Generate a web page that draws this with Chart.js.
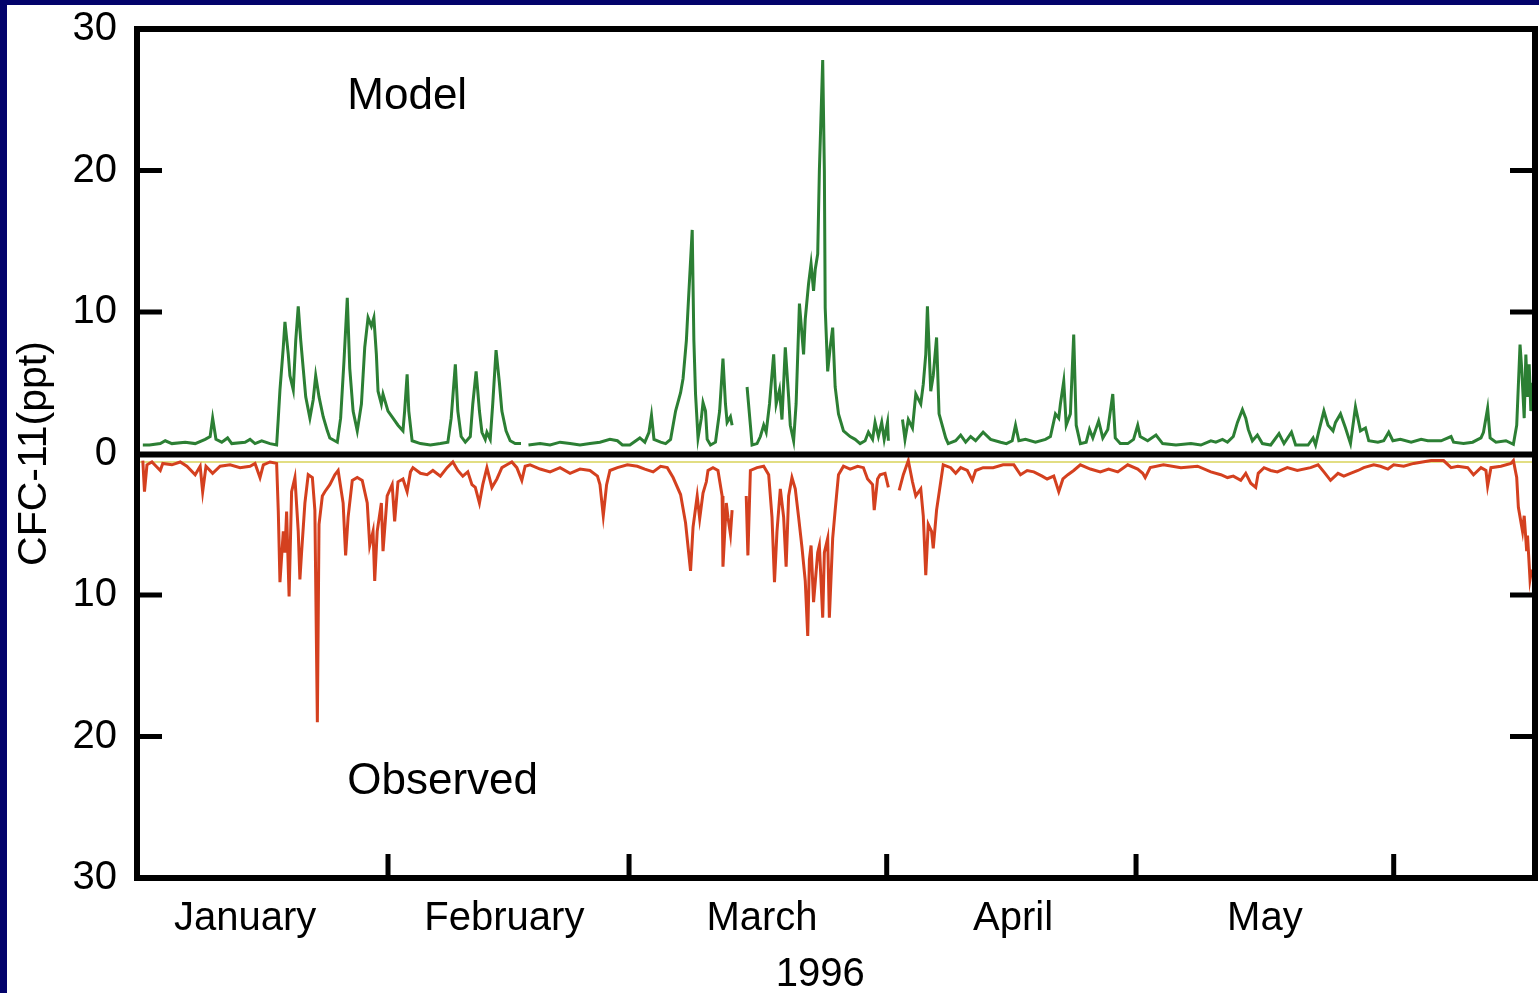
<!DOCTYPE html>
<html>
<head>
<meta charset="utf-8">
<script src="https://cdn.jsdelivr.net/npm/chart.js@4.4.1/dist/chart.umd.min.js"></script>
<style>
html, body { margin:0; padding:0; background:#03036b; width:1539px; height:993px; overflow:hidden; }
#wrap { position:absolute; left:7px; top:5px; width:1532px; height:988px; background:#fff; }
</style>
</head>
<body>
<div id="wrap"><canvas id="cfc"></canvas></div>
<script>
// time axis: day of 1996, Jan 1 00:00 = 0
const monthStarts = [31, 60, 91, 121, 152];
const monthNames = ['January', 'February', 'March', 'April', 'May'];
const labelDays = [13.8, 45.0, 76.0, 106.2, 136.5];
const yTicks = [-30, -20, -10, 0, 10, 20, 30];

// Model CFC-11 (ppt), plotted upward
const modelDays = [
1.5, 2.3, 3.6, 4.2, 5.0, 6.6, 7.8, 9.0, 9.6, 9.9, 10.3, 11.0, 11.7, 12.2, 13.8, 14.4, 15.0, 15.8, 16.8, 17.6,
17.8, 18.0, 18.4, 18.6, 19.0, 19.2, 19.6, 19.9, 20.2, 20.5, 20.8, 21.1, 21.6, 22.0, 22.3, 22.7, 23.2, 23.7, 24.0, 24.9, 25.3, 25.7, 26.1, 26.4, 26.8, 27.3, 27.8, 28.2, 28.6, 29.0, 29.3, 29.6, 29.8, 30.2, 30.4, 31.0, 31.6, 32.2, 32.8, 33.0, 33.3, 33.5, 33.9,
34.9, 36.1, 37.3, 38.2, 38.6, 39.1, 39.4, 39.8, 40.3, 40.9, 41.2, 41.6, 42.0, 42.3, 42.7, 42.9, 43.3, 43.6, 44.0, 44.4, 44.7, 45.2, 45.7, 46.3, 47.0, 47.4, 47.9, 49.3, 50.5, 51.7, 52.9, 54.1, 55.3, 56.5, 57.7, 58.6, 59.2,
60.1, 61.3, 61.9, 62.4, 62.7, 63.0, 63.8, 64.4, 65.0, 65.6, 66.2, 66.5, 66.9, 67.1, 67.6, 67.8, 68.0, 68.3, 68.7, 68.9, 69.2, 69.4, 69.8, 70.4, 70.9, 71.3, 71.6, 71.8, 72.2, 72.4, 73.5, 74.2, 74.6, 74.8, 75.4, 75.8, 76.2, 76.5, 76.9, 77.4, 77.7, 78.1, 78.4, 78.8, 79.2, 79.4, 79.8, 80.1, 80.5, 81.0, 81.2, 81.6, 81.9, 82.2, 82.4, 82.7, 82.9, 83.3, 83.5, 83.6, 83.9, 84.2, 84.5, 84.8, 85.2, 85.8, 86.6, 87.2, 87.8, 88.4, 88.8, 89.3, 89.6, 90.0, 90.4, 90.7, 91.1, 91.2,
92.0, 92.9, 93.2, 93.6, 94.1, 94.5, 95.1, 95.4, 95.7, 95.9, 96.3, 96.6, 97.0, 97.3, 98.1, 98.4, 99.3, 99.9, 100.5, 101.1, 101.7, 102.6, 103.5, 104.7, 105.4, 106.1, 106.5, 106.9, 107.7, 108.9, 110.1, 110.7, 111.3, 111.7, 111.9, 112.3, 112.6, 113.1, 113.5, 113.8, 114.3, 115.0, 115.4, 115.8, 116.5, 117.0, 117.6, 118.2, 118.5, 119.1, 120.0, 120.7,
121.2, 121.5, 122.4, 123.4, 124.2, 125.8, 127.6, 128.8, 130.0, 130.6, 131.4, 132.0, 132.7, 133.2, 133.8, 134.2, 134.5, 135.0, 135.6, 136.2, 137.2, 138.2, 138.8, 139.7, 140.2, 141.7, 142.3, 142.6, 143.0, 143.6, 144.1, 144.7, 145.0, 145.6, 146.2, 146.8, 147.4, 148.0, 148.6, 149.0, 150.1, 150.8, 151.4, 151.9, 152.8, 154.1, 155.3, 156.1, 157.7, 158.9, 159.2, 160.4, 161.5, 162.5, 162.8, 163.3, 163.6, 164.3, 165.5, 166.4, 166.8, 167.2, 167.4, 167.7, 167.9, 168.1, 168.3, 168.5, 168.7
];
const modelPpt = [
0.6, 0.6, 0.7, 0.9, 0.7, 0.8, 0.7, 1.0, 1.2, 2.5, 1.0, 0.8, 1.1, 0.7, 0.8, 1.0, 0.7, 0.9, 0.7, 0.6,
2.5, 4.5, 7.5, 9.3, 7.0, 5.5, 4.5, 8.0, 10.4, 8.0, 6.0, 4.0, 2.5, 3.8, 5.5, 4.0, 2.6, 1.6, 1.1, 0.8, 2.5, 6.5, 11.0, 6.0, 3.0, 1.6, 3.5, 7.5, 9.6, 9.0, 9.6, 7.0, 4.4, 3.5, 4.2, 3.0, 2.5, 2.0, 1.6, 3.0, 5.6, 3.0, 0.9,
0.7, 0.6, 0.7, 0.8, 2.5, 6.3, 3.0, 1.2, 0.8, 1.2, 3.5, 5.8, 3.0, 1.5, 1.0, 1.5, 1.0, 3.5, 7.3, 5.0, 3.0, 1.6, 0.9, 0.7, 0.7, null, 0.6, 0.7, 0.6, 0.8, 0.7, 0.6, 0.7, 0.8, 1.0, 0.9, 0.6,
0.6, 1.1, 0.8, 1.5, 2.7, 1.0, 0.8, 0.7, 1.0, 3.0, 4.3, 5.3, 8.0, 10.3, 15.8, 8.0, 4.2, 1.1, 2.5, 3.6, 3.0, 1.0, 0.6, 0.8, 3.0, 6.7, 3.5, 2.2, 2.6, 2.0, null, 4.7, 2.0, 0.6, 0.7, 1.2, 2.0, 1.5, 3.5, 7.0, 3.5, 4.5, 2.4, 7.5, 4.0, 2.0, 0.9, 3.5, 10.6, 7.0, 9.5, 12.0, 13.4, 11.5, 13.0, 14.1, 20.0, 27.8, 20.0, 10.3, 5.8, 7.5, 8.9, 4.7, 2.8, 1.6, 1.2, 1.0, 0.7, 0.9, 1.5, 1.0, 2.2, 1.2, 2.2, 1.0, 2.2, 0.9,
null, 2.4, 1.0, 2.4, 1.8, 4.2, 3.5, 4.9, 7.0, 10.4, 4.4, 5.5, 8.2, 2.8, 1.1, 0.7, 0.9, 1.3, 0.8, 1.2, 0.9, 1.5, 1.0, 0.8, 0.7, 0.9, 2.0, 0.9, 1.0, 0.8, 1.0, 1.2, 2.8, 2.5, 3.5, 5.1, 2.0, 2.8, 8.4, 2.0, 0.7, 0.8, 1.7, 1.1, 2.3, 1.1, 1.7, 4.2, 1.1, 0.7, 0.7, 1.0,
2.0, 1.2, 0.9, 1.3, 0.7, 0.6, 0.7, 0.6, 0.9, 0.8, 1.0, 0.8, 1.2, 2.2, 3.1, 2.5, 1.7, 0.9, 1.3, 0.7, 0.6, 1.4, 0.7, 1.5, 0.6, 0.6, 1.1, 0.6, 1.6, 3.0, 2.0, 1.6, 2.2, 2.8, 1.8, 0.7, 3.3, 1.6, 1.8, 0.9, 0.8, 0.9, 1.5, 0.9, 1.0, 0.8, 1.0, 0.9, 0.9, 1.2, 0.8, 0.7, 0.8, 1.1, 1.5, 3.2, 1.1, 0.8, 0.9, 0.65, 2.0, 7.7, 6.0, 2.5, 7.0, 4.0, 6.3, 3.0, 5.0
];

// Observed CFC-11 (ppt), plotted downward
const obsDays = [
1.5, 1.7, 2.0, 2.6, 3.1, 3.6, 3.9, 5.0, 6.0, 6.8, 7.8, 8.4, 8.7, 9.1, 9.9, 10.8, 12.0, 13.2, 14.4, 15.0, 15.6, 16.0, 16.8, 17.6,
17.8, 18.0, 18.4, 18.6, 18.8, 19.1, 19.4, 19.8, 20.2, 20.4, 20.6, 21.0, 21.4, 21.9, 22.2, 22.5, 22.7, 23.1, 23.4, 24.0, 24.6, 25.0, 25.6, 25.9, 26.2, 26.7, 27.3, 27.9, 28.5, 28.8, 29.2, 29.4, 29.7, 30.2, 30.4, 30.9, 31.5, 31.8, 32.2, 32.8, 33.3, 33.7, 34.0,
34.9, 35.7, 36.4, 37.3, 38.1, 38.8, 39.4, 40.0, 40.6, 41.1, 41.5, 42.0, 42.4, 42.9, 43.5, 44.1, 44.7, 45.3, 45.9, 46.5, 47.1, 47.5, 48.1, 49.3, 50.5, 51.7, 52.9, 54.1, 55.3, 56.2, 56.5, 56.9, 57.3, 57.7, 58.6, 59.8,
61.0, 61.9, 62.9, 63.8, 64.6, 65.3, 66.2, 66.8, 67.4, 67.7, 68.2, 68.5, 68.9, 69.3, 69.5, 70.1, 70.7, 71.2, 71.3, 71.7, 71.9, 72.2, 72.4, 73.5, 74.1, 74.3, 74.6, 75.4, 76.2, 76.8, 77.2, 77.5, 77.8, 78.2, 78.6, 78.9, 79.2, 79.6, 80.0, 80.4, 80.8, 81.2, 81.5, 81.7, 81.9, 82.2, 82.7, 82.9, 83.3, 83.5, 83.9, 84.1, 84.5, 84.8, 85.2, 85.8, 86.6, 87.5, 88.2, 88.7, 89.3, 89.5, 89.9, 90.2, 90.8, 91.2,
92.0, 92.5, 93.0, 93.6, 94.1, 94.5, 95.1, 95.4, 95.7, 96.0, 96.4, 96.6, 97.0, 97.5, 97.8, 98.7, 99.3, 99.9, 100.7, 101.3, 101.7, 102.6, 103.8, 105.0, 106.3, 107.1, 107.9, 108.7, 109.7, 110.3, 111.1, 111.7, 112.2, 112.8, 113.5, 114.3, 115.5, 116.7, 117.7, 118.8, 120.0,
121.2, 121.8, 122.1, 122.7, 124.3, 126.4, 128.4, 130.0, 131.2, 132.0, 132.7, 133.6, 134.2, 134.8, 135.4, 135.7, 136.4, 137.2, 138.0, 139.2, 140.4, 142.0, 142.9, 143.6, 144.4, 145.3, 146.0, 146.8, 147.7, 148.4, 149.6, 150.4, 151.3, 152.0, 153.2, 154.4, 156.5, 158.0, 158.9, 159.7, 160.9, 161.6, 162.5, 163.1, 163.3, 163.7, 164.9, 166.1, 166.4, 166.8, 167.0, 167.5, 167.7, 168.0, 168.1, 168.4, 168.6
];
const obsPpt = [
0.5, 2.7, 0.8, 0.6, 0.9, 1.2, 0.7, 0.8, 0.6, 0.9, 1.5, 0.9, 2.7, 0.9, 1.4, 0.9, 0.8, 1.0, 0.9, 0.7, 1.7, 0.8, 0.6, 0.7,
4.1, 9.1, 5.5, 7.0, 4.1, 10.1, 2.7, 1.7, 5.5, 8.9, 7.0, 3.5, 1.5, 1.7, 4.0, 19.0, 5.0, 3.0, 2.7, 2.2, 1.5, 1.2, 3.5, 7.2, 4.5, 1.9, 1.7, 1.9, 3.5, 6.5, 5.5, 9.0, 5.5, 3.5, 6.9, 3.0, 2.2, 4.8, 2.0, 1.8, 2.7, 1.3, 1.0,
1.4, 1.5, 1.2, 1.6, 1.0, 0.6, 1.2, 1.6, 1.3, 2.2, 2.4, 3.5, 2.2, 1.0, 2.4, 1.8, 1.0, 0.8, 0.6, 1.0, 1.9, 0.9, 0.8, 1.1, 1.3, 1.0, 1.4, 1.1, 1.2, 1.6, 2.2, 4.4, 2.2, 1.2, 1.0, 0.8,
0.9, 1.1, 1.3, 0.9, 1.0, 1.7, 2.9, 4.9, 8.3, 5.2, 3.0, 4.6, 2.8, 2.0, 1.2, 1.0, 1.2, 3.0, 8.0, 3.5, 4.5, 5.7, 4.0, null, 3.0, 7.2, 1.2, 1.0, 0.9, 1.5, 4.5, 9.1, 5.5, 2.5, 4.5, 8.0, 3.0, 1.7, 2.5, 4.5, 6.6, 9.0, 12.9, 7.5, 6.5, 10.5, 7.0, 6.5, 11.6, 7.0, 6.0, 11.6, 6.0, 4.0, 1.5, 0.9, 1.1, 0.9, 1.0, 1.8, 2.2, 4.0, 1.8, 1.5, 1.4, 2.4,
null, 2.6, 1.5, 0.5, 2.0, 3.0, 2.5, 4.4, 8.6, 5.0, 5.5, 6.7, 4.0, 2.0, 0.8, 1.0, 1.4, 1.0, 1.2, 1.9, 1.2, 1.0, 1.0, 0.8, 0.8, 1.5, 1.2, 1.3, 1.6, 1.8, 1.6, 2.7, 1.8, 1.5, 1.2, 0.8, 1.1, 1.3, 1.1, 1.3, 0.8,
1.1, 1.4, 1.7, 1.0, 0.8, 1.0, 0.9, 1.3, 1.5, 1.7, 1.6, 1.9, 1.4, 2.1, 2.4, 1.4, 1.0, 1.2, 1.3, 1.0, 1.2, 1.0, 0.8, 1.3, 1.9, 1.4, 1.6, 1.4, 1.2, 1.0, 0.8, 0.9, 1.1, 0.8, 0.9, 0.7, 0.5, 0.5, 1.0, 0.9, 1.0, 1.5, 1.0, 1.2, 2.3, 1.0, 0.9, 0.7, 0.5, 1.7, 3.8, 5.5, 4.4, 6.9, 5.8, 8.9, 8.2
];

const baselineDays = [0.8, 169];
const baselinePpt = [-0.6, -0.6];

const FONT = "'Liberation Sans', Arial, Helvetica, sans-serif";

function toPoints(days, vals, sign) {
    return days.map((d, i) => ({ x: d, y: vals[i] === null ? null : sign * vals[i] }));
}

const framePlugin = {
    id: 'frame',
    afterDatasetsDraw(chart) {
        const { ctx, chartArea: a, scales: { x, y } } = chart;
        ctx.save();
        ctx.strokeStyle = '#000';
        ctx.lineCap = 'butt';

        // zero line
        ctx.lineWidth = 6;
        ctx.beginPath();
        ctx.moveTo(a.left, y.getPixelForValue(0) + 1);
        ctx.lineTo(a.right, y.getPixelForValue(0) + 1);
        ctx.stroke();

        // inward tick marks
        ctx.lineWidth = 5;
        ctx.beginPath();
        [-20, -10, 10, 20].forEach(v => {
            const py = y.getPixelForValue(v);
            ctx.moveTo(a.left, py); ctx.lineTo(a.left + 25, py);
            ctx.moveTo(a.right - 25, py); ctx.lineTo(a.right, py);
        });
        monthStarts.forEach(d => {
            const px = x.getPixelForValue(d);
            ctx.moveTo(px, a.bottom); ctx.lineTo(px, a.bottom - 24);
        });
        ctx.stroke();

        // box
        ctx.lineWidth = 6;
        ctx.strokeRect(a.left, a.top, a.right - a.left, a.bottom - a.top);

        // annotations
        ctx.fillStyle = '#000';
        ctx.textBaseline = 'middle';
        ctx.textAlign = 'left';
        ctx.font = '44px ' + FONT;
        ctx.fillText('Model', x.getPixelForValue(26.1), y.getPixelForValue(25.2));
        ctx.fillText('Observed', x.getPixelForValue(26.1), y.getPixelForValue(-23.2));
        ctx.textAlign = 'center';
        ctx.font = '40px ' + FONT;
        ctx.fillText('1996', x.getPixelForValue(83.0), a.bottom + 97);
        ctx.restore();
    }
};

new Chart(document.getElementById('cfc'), {
    type: 'line',
    data: {
        datasets: [
            {
                label: 'Observed',
                data: toPoints(obsDays, obsPpt, -1),
                borderColor: '#d4401f',
                borderWidth: 3,
                pointRadius: 0,
                spanGaps: false
            },
            {
                label: 'Model',
                data: toPoints(modelDays, modelPpt, 1),
                borderColor: '#2c7f34',
                borderWidth: 3,
                pointRadius: 0,
                spanGaps: false
            },
            {
                label: 'baseline',
                data: toPoints(baselineDays, baselinePpt, 1),
                borderColor: '#d8d35a',
                borderWidth: 1.5,
                pointRadius: 0
            }
        ]
    },
    options: {
        responsive: true,
        maintainAspectRatio: false,
        animation: false,
        events: [],
        layout: { padding: { top: 24, right: 4, left: 0, bottom: 0 } },
        plugins: {
            legend: { display: false },
            tooltip: { enabled: false }
        },
        scales: {
            x: {
                type: 'linear',
                min: 0.8,
                max: 169,
                afterFit: s => { s.height = 115; s.paddingLeft = 0; s.paddingRight = 0; },
                afterBuildTicks: s => { s.ticks = labelDays.map(v => ({ value: v })); },
                grid: { display: false, drawTicks: false },
                border: { display: false },
                ticks: {
                    autoSkip: false,
                    maxRotation: 0,
                    padding: 17,
                    color: '#000',
                    font: { family: FONT, size: 40 },
                    callback: (v, i) => monthNames[i]
                }
            },
            y: {
                min: -30,
                max: 30,
                afterFit: s => { s.width = 130; s.paddingTop = 0; s.paddingBottom = 0; },
                afterBuildTicks: s => { s.ticks = yTicks.map(v => ({ value: v })); },
                grid: { display: false, drawTicks: false },
                border: { display: false },
                ticks: {
                    padding: 20,
                    color: '#000',
                    font: { family: FONT, size: 40 },
                    callback: v => Math.abs(v)
                },
                title: {
                    display: true,
                    text: 'CFC-11(ppt)',
                    color: '#000',
                    font: { family: FONT, size: 41 },
                    padding: { top: 3, bottom: 0 }
                }
            }
        }
    },
    plugins: [framePlugin]
});
</script>
</body>
</html>
